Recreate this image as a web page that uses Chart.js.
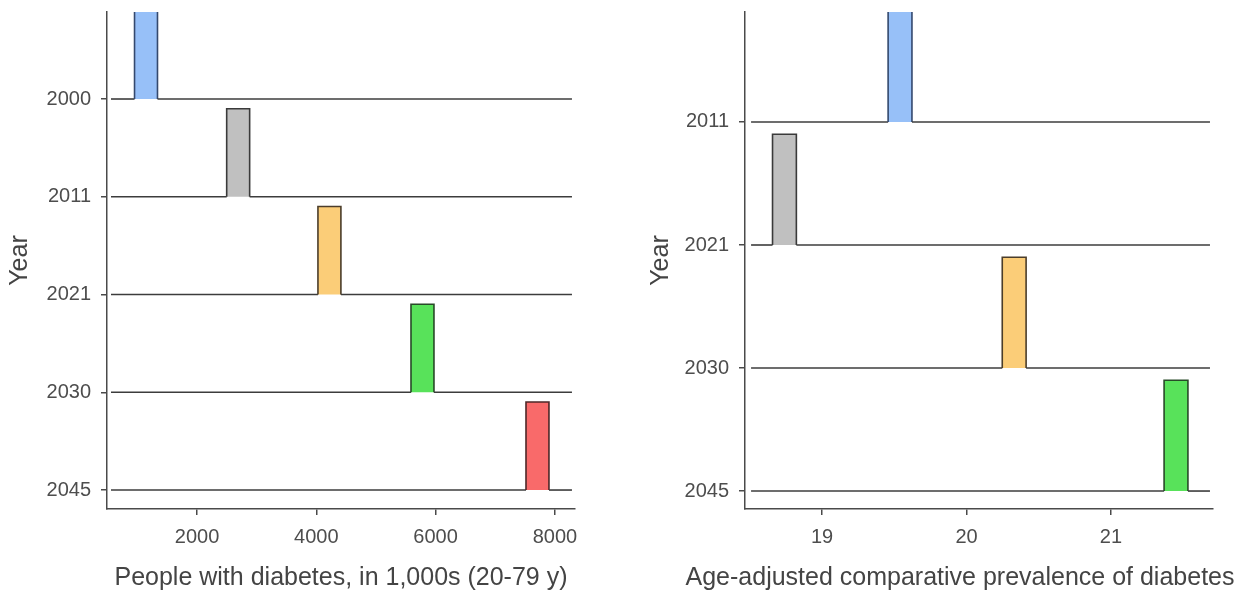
<!DOCTYPE html>
<html>
<head>
<meta charset="utf-8">
<script src="https://cdn.jsdelivr.net/npm/chart.js@4.4.1/dist/chart.umd.min.js"></script>
<style>
  html, body { margin: 0; padding: 0; background: #fff; overflow: hidden; }
  #wrap { position: relative; width: 1251px; height: 593px; overflow: hidden; }
  canvas { position: absolute; top: 0; }
  #peopleChart { left: 0; }
  #prevalenceChart { left: 641px; }
</style>
</head>
<body>
<div id="wrap">
  <canvas id="peopleChart" width="682" height="593"></canvas>
  <canvas id="prevalenceChart" width="638" height="593"></canvas>
</div>
<script>
// left panel: people with diabetes (1,000s)
const peopleYears = ['2000', '2011', '2021', '2030', '2045'];
const peopleValues = [1145, 2690, 4220, 5780, 7708];
const peopleTicks = [2000, 4000, 6000, 8000];
const peopleRange = [558, 8286];
const peopleBin = 385;

// right panel: age-adjusted prevalence (%)
const prevalenceYears = ['2011', '2021', '2030', '2045'];
const prevalenceValues = [19.54, 18.74, 20.33, 21.45];
const prevalenceTicks = [19, 20, 21];
const prevalenceRange = [18.509, 21.685];
const prevalenceBin = 0.165;

const ridgeHeight = 0.9;

const fills = ['#97c0f8', '#c0c0c0', '#fbcd78', '#58e25a', '#f96a6a'];
const outlines = ['#34496e', '#3a3a3a', '#4b3d2a', '#284a28', '#4e2828'];
const baseColor = '#3c3c3c';

const tickColor = '#4d4d4d';
const axisColor = '#4a4a4a';
const font = 'Liberation Sans, Arial, Helvetica, sans-serif';

function ridgeDatasets(years, values, bin, range) {
    const n = years.length;
    return years.map((year, i) => {
        const base = n - 1 - i;
        const lo = values[i] - bin / 2;
        const hi = values[i] + bin / 2;
        return {
            label: year,
            data: [
                { x: range[0], y: base },
                { x: lo, y: base },
                { x: lo, y: base + ridgeHeight },
                { x: hi, y: base + ridgeHeight },
                { x: hi, y: base },
                { x: range[1], y: base }
            ],
            borderColor: outlines[i],
            backgroundColor: fills[i],
            borderWidth: 1.6,
            pointRadius: 0,
            tension: 0,
            fill: { value: base },
            segment: {
                // flat parts on the baseline are plain grey
                borderColor: ctx => (ctx.p0.parsed.y === base && ctx.p1.parsed.y === base) ? baseColor : undefined
            }
        };
    });
}

function makeChart(id, cfg) {
    const n = cfg.years.length;
    const tickFont = { family: font, size: 20 };
    return new Chart(document.getElementById(id), {
        type: 'line',
        data: { datasets: ridgeDatasets(cfg.years, cfg.values, cfg.bin, cfg.range) },
        options: {
            responsive: false,
            animation: false,
            devicePixelRatio: 1,
            layout: { padding: { top: 12, left: 0, right: 0, bottom: 0 } },
            plugins: {
                legend: { display: false },
                tooltip: { enabled: false },
                title: {
                    display: true,
                    position: 'bottom',
                    text: cfg.title,
                    color: '#444',
                    font: { family: font, size: 25, weight: 'normal' },
                    padding: 0
                }
            },
            scales: {
                x: {
                    type: 'linear',
                    min: cfg.min,
                    max: cfg.max,
                    afterBuildTicks: s => { s.ticks = cfg.ticks.map(v => ({ value: v })); },
                    afterFit: s => { s.height = 54; s.paddingLeft = 0; s.paddingRight = 0; },
                    grid: { drawOnChartArea: false, drawTicks: true, tickLength: 6, color: axisColor, lineWidth: 1.5 },
                    border: { display: true, color: axisColor, width: 1.5 },
                    ticks: { color: tickColor, padding: 10, font: tickFont, callback: v => String(v) }
                },
                y: {
                    type: 'linear',
                    min: cfg.yMin,
                    max: cfg.yMax,
                    afterBuildTicks: s => { s.ticks = cfg.years.map((_, i) => ({ value: i })); },
                    afterFit: s => { s.width = cfg.yWidth; s.paddingTop = 0; s.paddingBottom = 0; },
                    grid: { drawOnChartArea: false, drawTicks: true, tickLength: 6, color: axisColor, lineWidth: 1.5 },
                    border: { display: true, color: axisColor, width: 1.5 },
                    ticks: {
                        color: tickColor,
                        padding: 10,
                        font: tickFont,
                        callback: v => cfg.years[n - 1 - v]
                    },
                    title: {
                        display: true,
                        text: 'Year',
                        color: '#444',
                        padding: { top: 5, bottom: 0 },
                        font: { family: font, size: 25 }
                    }
                },
                // empty right-hand box, keeps the plot area narrower than the title row
                gap: {
                    type: 'linear',
                    position: 'right',
                    axis: 'y',
                    grid: { display: false },
                    border: { display: false },
                    ticks: { display: false },
                    afterFit: s => { s.width = cfg.gapRight; s.paddingTop = 0; s.paddingBottom = 0; }
                }
            }
        }
    });
}

makeChart('peopleChart', {
    years: peopleYears,
    values: peopleValues,
    bin: peopleBin,
    range: peopleRange,
    ticks: peopleTicks,
    min: 491,
    max: 8337,
    yMin: -0.194,
    yMax: 4.89,
    yWidth: 107,
    gapRight: 107,
    title: 'People with diabetes, in 1,000s (20-79 y)'
});

makeChart('prevalenceChart', {
    years: prevalenceYears,
    values: prevalenceValues,
    bin: prevalenceBin,
    range: prevalenceRange,
    ticks: prevalenceTicks,
    min: 18.467,
    max: 21.706,
    yMin: -0.146,
    yMax: 3.894,
    yWidth: 104,
    gapRight: 66,
    title: 'Age-adjusted comparative prevalence of diabetes'
});
</script>
</body>
</html>
